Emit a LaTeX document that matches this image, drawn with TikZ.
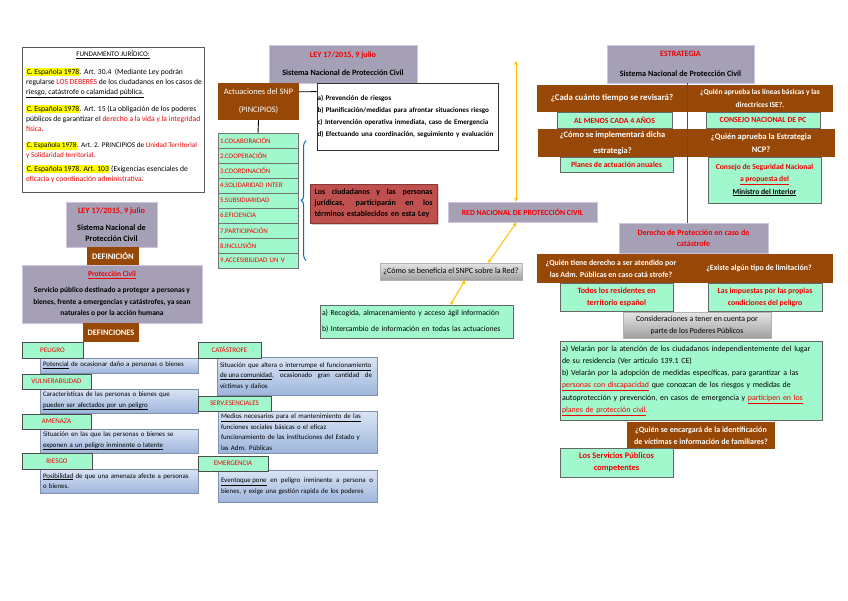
\documentclass[tikz,border=0pt]{standalone}
\usepackage{fontspec}
\setmainfont{Carlito}
\usetikzlibrary{positioning,shadows,decorations.pathreplacing,backgrounds,arrows.meta}

\definecolor{lavfill}{RGB}{166,160,182}
\definecolor{lavline}{RGB}{206,196,222}
\definecolor{brownbox}{RGB}{152,72,6}
\definecolor{mintbox}{RGB}{160,248,204}
\definecolor{redbox}{RGB}{192,80,77}
\definecolor{purpline}{RGB}{112,48,160}
\definecolor{goldline}{RGB}{255,192,0}
\definecolor{bracecol}{RGB}{0,112,192}
\definecolor{txtred}{RGB}{240,0,0}
\definecolor{hlyellow}{RGB}{255,255,0}
\definecolor{bluetop}{RGB}{218,228,244}
\definecolor{bluebot}{RGB}{158,182,220}

\newcommand{\fz}[2]{\fontsize{#1}{#2}\selectfont}
\newcommand{\hlt}[1]{{\setlength{\fboxsep}{0.6pt}\colorbox{hlyellow}{#1}}}
\newcommand{\rd}[1]{\textcolor{txtred}{#1}}
\newcommand{\jl}[2]{\leavevmode\hbox to #1{\spaceskip=0.22em plus 1fil\relax #2}}

\tikzset{
  lav/.style={fill=lavfill, draw=lavline, line width=0.9pt, align=center, inner sep=1pt, font=\fz{8.1}{11}\bfseries},
  brn/.style={fill=brownbox, text=white, align=center, inner sep=1pt, font=\fz{8}{13}\bfseries},
  mnt/.style={fill=mintbox, draw=black!60, line width=0.4pt, align=center, inner sep=1pt, text=txtred, font=\fz{7.8}{12}\bfseries},
  prin/.style={fill=mintbox, draw=black!55, line width=0.4pt, minimum width=80pt, minimum height=15pt, text width=76pt, inner xsep=2pt, align=left, text=txtred, font=\fz{6.9}{8}},
  fpara/.style={anchor=north west, align=left, inner sep=0pt, font=\fz{7.6}{10}},
  deflab/.style={fill=mintbox, draw=black!70, line width=0.5pt, inner sep=1pt, text=txtred, font=\fz{7}{10}, drop shadow={opacity=0.25, shadow xshift=1pt, shadow yshift=-1pt}},
  defbox/.style={top color=bluetop, bottom color=bluebot, draw=bluebot!80!black, line width=0.3pt, align=left, inner xsep=3pt, inner ysep=0pt, font=\fz{6.9}{10.5}, drop shadow={opacity=0.3, shadow xshift=1.2pt, shadow yshift=-1.2pt}},
  grayq/.style={top color=gray!20, bottom color=gray!75, draw=gray!60, line width=0.4pt, align=center, inner sep=1pt, font=\fz{8}{12}},
  purp/.style={purpline, line width=1.1pt},
  gold/.style={goldline, line width=1pt, {Stealth[length=4pt,width=4pt]}-{Stealth[length=4pt,width=4pt]}},
}

\begin{document}
\begin{tikzpicture}[x=1pt, y=-1pt]
  \useasboundingbox[fill=white] (0,0) rectangle (848,600);

  % --- Fundamento juridico ---
  \node[draw=black!65, line width=0.8pt, fill=white, minimum width=182pt, minimum height=145pt, anchor=north west] (fund) at (22,47) {};
  \node[font=\fz{7.1}{10}] (fundt) at (113,55) {\underline{FUNDAMENTO JURÍDICO:}};
  \node[fpara] (fp1) at (26,68) {\hlt{C. Española 1978}. Art. 30.4 \ (Mediante Ley podrán\\ regularse \rd{LOS DEBERES} de los ciudadanos en los casos de\\ \underline{riesgo, catástrofe o calamidad pública.}};
  \node[fpara] (fp2) at (26,105) {\hlt{C. Española 1978}. Art. 15 (La obligación de los poderes\\ públicos de garantizar el \rd{derecho a la vida y la integridad}\\ \rd{física}.};
  \node[fpara, font=\fz{7.2}{10}] (fp3) at (26,142) {\hlt{C. Española 1978}. Art. 2. PRINCIPIOS de \rd{Unidad Territorial}\\ \rd{y Solidaridad territorial}.};
  \node[fpara] (fp4) at (26,165) {\hlt{C. Española 1978. Art. 103} (Exigencias esenciales de\\ \rd{eficacia y coordinación administrativa}.};

  % --- Ley 17/2015 y actuaciones ---
  \node[lav, minimum width=148pt, minimum height=38pt] (ley) at (343,64) {\rd{LEY 17/2015, 9 julio}\\[7pt]Sistema Nacional de Protección Civil};
  \node[brn, font=\fz{8.4}{12}, minimum width=81pt, minimum height=37pt] (act) at (258.5,101.5) {Actuaciones del SNP\\[6pt](PINCIPIOS)};
  \node[draw=black!80, line width=0.7pt, fill=white, minimum width=181pt, minimum height=67pt, text width=180pt, inner xsep=0.5pt, align=left, font=\fz{7.1}{11.7}\bfseries] (acts) at (407.5,116.5) {a) Prevención de riesgos\\ b) Planificación/medidas para afrontar situaciones riesgo\\ c) Intervención operativa inmediata, caso de Emergencia\\ d) Efectuando una coordinación, seguimiento y evaluación};

  % Principios
  \foreach \t [count=\i] in {1.COLABORACIÓN, 2.COOPERACIÓN, 3.COORDINACIÓN, 4.SOLIDARIDAD INTER, 5.SUBSIDIARIDAD, 6.EFICIENCIA, 7.PARTICIPACIÓN, 8.INCLUSIÓN, 9.ACCESIBILIDAD UN V}
    \node[prin] (pr\i) at (258,{125.5+15*\i}) {\t};

  \node[fill=redbox, draw=redbox!70!black, line width=0.4pt, minimum width=127pt, minimum height=39pt, text width=118pt, inner xsep=4.5pt, align=left, font=\fz{8}{11}\bfseries, drop shadow={opacity=0.35}] (ciud) at (373.5,203.5) {\jl{118pt}{Los ciudadanos y las personas}\\ \jl{118pt}{jurídicas, participarán en los}\\ términos establecidos en esta Ley};

  % --- Red nacional ---
  \node[lav, text=txtred, font=\fz{7.8}{10}\bfseries, minimum width=149pt, minimum height=20pt] (red) at (522.5,212) {RED NACIONAL DE PROTECCIÓN CIVIL};
  \node[grayq, minimum width=142pt, minimum height=17pt] (benef) at (451,271.5) {¿Cómo se beneficia el SNPC sobre la Red?};
  \node[mnt, text=black, font=\fz{7.7}{16}, minimum width=193pt, minimum height=33pt, text width=189pt, inner xsep=2pt, align=left] (recog) at (416.5,321.5) {a) Recogida, almacenamiento y acceso ágil información\\ b) Intercambio de información en todas las actuaciones};

  % --- Estrategia ---
  \node[lav, minimum width=147pt, minimum height=38pt] (estr) at (680.5,64) {\rd{ESTRATEGIA}\\[9pt]Sistema Nacional de Protección Civil};
  \node[brn, font=\fz{8.8}{13}\bfseries, minimum width=150pt, minimum height=27pt] (q1) at (612,98.5) {¿Cada cuánto tiempo se revisará?};
  \node[brn, font=\fz{7.5}{13}\bfseries, minimum width=146pt, minimum height=27pt] (q2) at (760,98.5) {¿Quién aprueba las líneas básicas y las\\directrices ISE?.};
  \node[mnt, minimum width=115pt, minimum height=16pt] (a1) at (614.5,120) {AL MENOS CADA 4 AÑOS};
  \node[mnt, minimum width=114pt, minimum height=16pt] (a2) at (763,120) {CONSEJO NACIONAL DE PC};
  \node[brn, font=\fz{8.4}{16}\bfseries, minimum width=149pt, minimum height=28pt] (q3) at (612.5,143) {¿Cómo se implementará dicha\\estrategia?};
  \node[brn, font=\fz{8.4}{13}\bfseries, minimum width=148pt, minimum height=28pt] (q4) at (761,143) {¿Quién aprueba la Estrategia\\NCP?};
  \node[mnt, minimum width=113pt, minimum height=15pt] (a3) at (616.5,164.5) {Planes de actuación anuales};
  \node[mnt, font=\fz{7.6}{12.5}\bfseries, minimum width=113pt, minimum height=46pt] (a4) at (764.5,180) {Consejo de Seguridad Nacional\\\underline{a propuesta del}\\\textcolor{black}{\underline{Ministro del Interior}}};

  % --- Derecho de proteccion ---
  \node[lav, text=txtred, font=\fz{8}{11}\bfseries, minimum width=149pt, minimum height=30pt] (der) at (693.5,238) {Derecho de Protección en caso de\\catástrofe};
  \node[brn, font=\fz{7.8}{12}\bfseries, minimum width=148pt, minimum height=29pt] (q5) at (611,268.5) {¿Quién tiene derecho a ser atendido por\\las Adm. Públicas en caso catá strofe?};
  \node[brn, font=\fz{7.9}{12}\bfseries, minimum width=148pt, minimum height=29pt] (q6) at (759,268.5) {¿Existe algún tipo de limitación?};
  \node[mnt, font=\fz{8.1}{12}\bfseries, minimum width=113pt, minimum height=28pt] (a5) at (616.5,297) {Todos los residentes en\\territorio español};
  \node[mnt, minimum width=114pt, minimum height=28pt] (a6) at (765,297) {Las impuestas por las propias\\condiciones del peligro};
  \node[grayq, font=\fz{7.8}{12}, minimum width=148pt, minimum height=26pt] (cons) at (697,325) {Consideraciones a tener en cuenta por\\parte de los Poderes Públicos};
  \node[mnt, text=black, font=\fz{7.9}{12.2}, minimum width=262pt, minimum height=79pt, text width=258pt, inner xsep=2pt, align=left] (big) at (691,380.5) {a) Velarán por la atención de los ciudadanos independientemente del lugar\\ de su residencia (Ver artículo 139.1 CE)\\ b) Velarán por la adopción de medidas específicas, para garantizar a las\\ \rd{\underline{personas con discapacidad}} que conozcan de los riesgos y medidas de\\ autoprotección y prevención, en casos de emergencia y \rd{\underline{participen en los}}\\ \rd{\underline{planes de protección civil}.}};
  \node[brn, font=\fz{8}{12}\bfseries, minimum width=148pt, minimum height=27pt] (qvict) at (701,435.5) {¿Quién se encargará de la identificación\\de víctimas e información de familiares?};
  \node[mnt, font=\fz{8.4}{12}\bfseries, minimum width=113pt, minimum height=29pt] (a7) at (616.5,462.5) {Los Servicios Públicos\\competentes};

  % --- Definicion ---
  \node[lav, font=\fz{8.2}{10.5}\bfseries, minimum width=91pt, minimum height=45pt] (ley2) at (111.5,224.5) {\rd{LEY 17/2015, 9 julio}\\[7pt]Sistema Nacional de\\Protección Civil};
  \node[brn, font=\fz{8.5}{12}\bfseries, minimum width=52pt, minimum height=18pt] (defi) at (113,256) {DEFINICIÓN};
  \node[lav, font=\fz{7.5}{11.5}\bfseries, minimum width=180pt, minimum height=58pt] (pc) at (112,294) {\rd{\underline{Protección Civil}}\\[5pt] Servicio público destinado a proteger a personas y\\ bienes, frente a emergencias y catástrofes, ya sean\\ naturales o por la acción humana};
  \node[brn, font=\fz{8.4}{12}\bfseries, minimum width=56pt, minimum height=19pt] (defs) at (111,332.5) {DEFINCIONES};

  % --- Definiciones ---
  \node[defbox, minimum width=158pt, minimum height=15pt, text width=152pt] (dpel) at (119,365.5) {\underline{Potencial} de ocasionar daño a personas o bienes};
  \node[defbox, minimum width=158pt, minimum height=24pt, text width=152pt] (dvul) at (119,401) {Características de las personas o bienes que\\ \underline{pueden ser afectados por un peligro}};
  \node[defbox, minimum width=158pt, minimum height=24pt, text width=152pt] (dame) at (119,441) {Situación en las que las personas o bienes se\\ \underline{exponen a un peligro inminente o latente}};
  \node[defbox, minimum width=158pt, minimum height=24pt, text width=152pt] (drie) at (119,481) {\underline{Posibilidad} de que una amenaza afecte a personas\\ o bienes.};
  \node[defbox, minimum width=160pt, minimum height=38pt, text width=154pt] (dcat) at (297,376) {Situación que altera \underline{o interrumpe el funcionamiento}\\ \jl{152pt}{\underline{de una comunidad}, ocasionado gran cantidad de}\\ víctimas y daños};
  \node[defbox, minimum width=159pt, minimum height=42pt, text width=153pt] (dser) at (297.5,432) {\underline{Medios necesarios para el mantenimiento de las}\\ funciones sociales básicas o el eficaz\\ funcionamiento de las instituciones del Estado y\\ las Adm. Públicas};
  \node[defbox, minimum width=159pt, minimum height=32pt, text width=153pt] (deme) at (297.5,486) {\jl{152pt}{\underline{Eventoque pone} en peligro inminente a persona o}\\ bienes, y exige una gestión rapida de los poderes};

  \node[deflab, minimum width=61pt, minimum height=16pt] (lpel) at (52.5,350) {PELIGRO};
  \node[deflab, minimum width=69pt, minimum height=15pt] (lvul) at (56.5,381.5) {VULNERABILIDAD};
  \node[deflab, minimum width=69pt, minimum height=15pt] (lame) at (56.5,421.5) {AMENAZA};
  \node[deflab, minimum width=70pt, minimum height=16pt] (lrie) at (57,461) {RIESGO};
  \node[deflab, minimum width=63pt, minimum height=16pt] (lcat) at (229.5,350) {CATÁSTROFE};
  \node[deflab, minimum width=73pt, minimum height=15pt] (lser) at (234.5,403.5) {SERV.ESENCIALES};
  \node[deflab, minimum width=70pt, minimum height=15pt] (leme) at (233,463.5) {EMERGENCIA};

  % --- Conectores ---
  \coordinate (topL) at (204,58);
  \coordinate (topR) at (607,58);
  \coordinate (goldtop) at (516,61);
  \coordinate (vend) at (689,490);
  \begin{scope}[on background layer]
    \draw[purp] (topL) -- (topR);
    \draw[purp] (fund.south -| ley2.north) -- (ley2.north);
    \draw[purp] (qvict.south -| vend) -- (vend);
  \end{scope}
  \draw[purp] (estr.south -| q1.east) -- (der.north -| q1.east);
  \draw[gold] (goldtop) -- (goldtop |- red.north);
  \draw[gold] ([xshift=-6pt]red.south) -- ([xshift=-34pt]benef.north east);
  \draw[gold] ([xshift=14pt]benef.south) -- ([xshift=34pt]recog.north);
  \draw[black, line width=0.9pt] ([yshift=-9pt]act.north east) -- ([yshift=-9pt]acts.north west);
  \draw[black, line width=0.9pt] (act.south) -- (pr1.north);
  \draw[bracecol, line width=1pt, decorate, decoration={brace, amplitude=5pt}] ([xshift=8pt]pr9.east) -- ([xshift=8pt]pr1.east);
\end{tikzpicture}
\end{document}
